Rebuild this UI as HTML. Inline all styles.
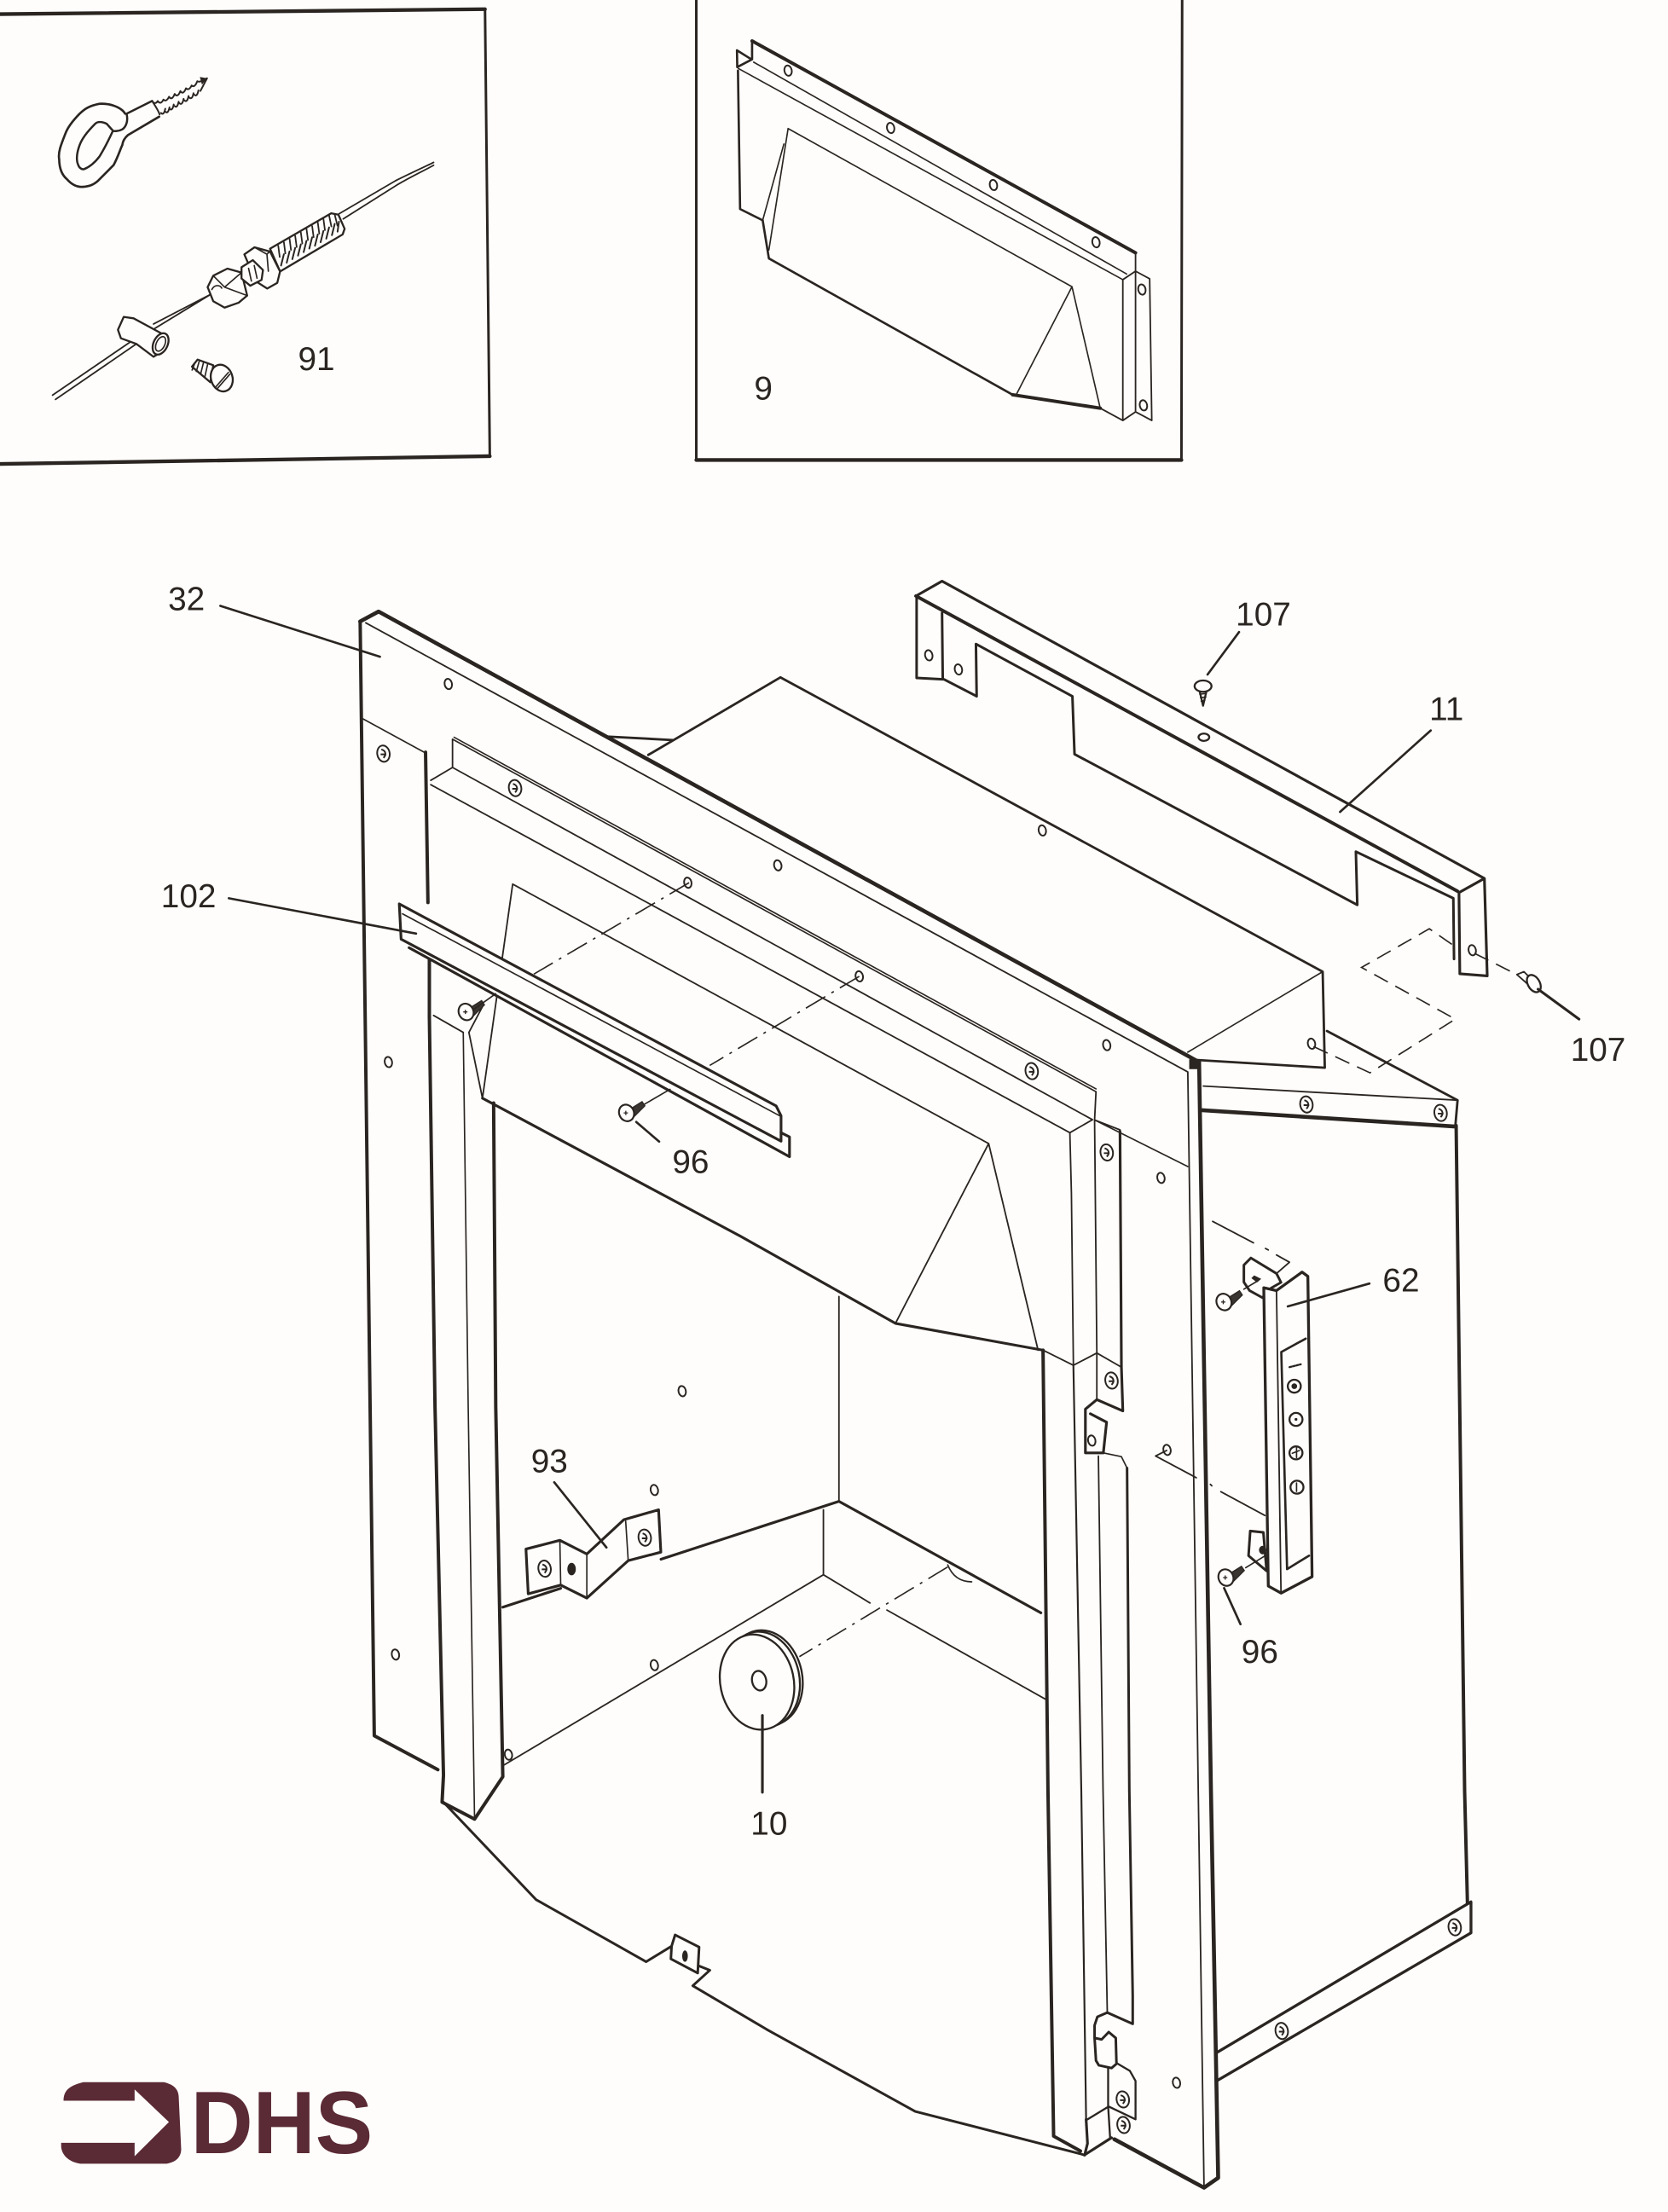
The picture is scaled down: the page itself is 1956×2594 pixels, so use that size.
<!DOCTYPE html>
<html>
<head>
<meta charset="utf-8">
<title>DHS parts diagram</title>
<style>
html,body{margin:0;padding:0;background:#fefdfb}
svg{display:block}
.t{fill:none;stroke:#2a2521;stroke-width:2.4;stroke-linejoin:round;stroke-linecap:round}
.m{fill:none;stroke:#2a2521;stroke-width:1.6;stroke-linejoin:round;stroke-linecap:round}
.n{fill:none;stroke:#2a2521;stroke-width:1;stroke-linejoin:round;stroke-linecap:round}
.d{fill:none;stroke:#2a2521;stroke-width:1;stroke-dasharray:16 5 2 5}
.k{fill:none;stroke:#2a2521;stroke-width:1;stroke-dasharray:11 6}
.f{fill:#fefdfb;stroke:#2a2521;stroke-width:1.4;stroke-linejoin:round}
text{font-family:"Liberation Sans",sans-serif;font-size:23.4px;fill:#2a2521}
</style>
</head>
<body>
<svg xmlns="http://www.w3.org/2000/svg" width="1956" height="2594" viewBox="0 0 1181 1566.2" preserveAspectRatio="none">
<defs>
<g id="h"><ellipse cx="0" cy="0" rx="2.6" ry="3.7" fill="#fefdfb" stroke="#2a2521" stroke-width="1.2" transform="rotate(-12)"/></g>
<g id="s"><ellipse cx="0" cy="0" rx="4.4" ry="5.8" fill="#fefdfb" stroke="#2a2521" stroke-width="1.2" transform="rotate(-10)"/><path d="M-1.5,-3 C2,-2 2,1 0,3 M-2,.5 L2,.5" fill="none" stroke="#2a2521" stroke-width="1.2"/></g>
<g id="b"><path d="M3,-3 L11,-8 L13,-5 L5,3 Z" fill="#3a3530" stroke="#2a2521" stroke-width=".8"/><ellipse cx="0" cy="0" rx="5.2" ry="6" fill="#fefdfb" stroke="#2a2521" stroke-width="1.3" transform="rotate(-25)"/><path d="M-2,0 L1,0 M-.5,-1.5 L-.5,1.5" stroke="#2a2521" stroke-width=".8"/></g>
</defs>
<rect width="1181" height="1566.2" fill="#fefdfb"/>

<!-- Inset 1 -->
<path d="M0,10 L343.4,6.5" class="t" style="stroke-width:2.6"/>
<path d="M343.4,6.5 L346.8,323" class="m" style="stroke-width:1.8"/>
<path d="M346.8,323 L0,328.5" class="t" style="stroke-width:2.6"/>
<!-- eye bolt -->
<path d="M88.6,80.5 C86,76 78,73 70.5,73.5 C63,75 60,77 56.4,80.5 C51,86 48,90 46.3,94.6 C43,103 41,108 41.9,112.8 C42,120 44,124 47.3,126.8 C51,131 55,132.5 58.4,132.3 C63,132 66,131 69.5,127.9 L80.5,116.8 C84,110 85,106 86.6,102.7 C87,99 89,97 90.6,95.6 L112.7,82.6" class="m" style="stroke-width:1.6"/>
<path d="M89.6,80.5 L107.7,71.5 M89.6,80.5 C91,86 89,90 86.6,91.6 C84,93 81,93 80,92.6 L75.5,87.6 C72,86 69,86 67.4,87.6 C62,93 58,98 56.4,102.7 C54,109 54,114 55.4,116.8 C56,119 58,120 59.4,119.8 C64,118 68,114 70.5,110.7 C74,105 77,99 79.5,93.6" class="m" style="stroke-width:1.5"/>
<path d="M107.7,71.5 C110,75 112,78 113,81" class="m" style="stroke-width:1.2"/>
<path d="M107.7,71.5 q2,3 4,0 q2,3 4,-1 q2,2 4,-2 q2,3 4,-2 q2,3 4,-2 q2,3 4,-2 q2,2 4,-2 q2,2 4,-3 q2,1 4,-1 L146.6,55.4 L141.9,64.4" class="n" style="stroke-width:1.2"/>
<path d="M114,80 q2,2 3,-3 M117,79 q2,2 3,-3 M120,77 q2,2 3,-3 M123.5,75 q2,2 3,-3 M127,73 q2,2 3,-3 M130.5,71 q2,2 3,-3 M134,69 q2,2 3,-3 M137.5,67 q2,2 3,-3" class="n" style="stroke-width:1.2"/>
<path d="M146.6,55.4 L141.5,54.5 L143,60 Z" fill="#2a2521"/>
<!-- cable -->
<path d="M37.2,279.8 L94.6,240.5 M39.3,282.8 L96.6,243.5" class="m" style="stroke-width:1.1"/>
<path d="M108.7,229.4 L157,204.3 M109.7,232.5 L151,207.3" class="m" style="stroke-width:1.1"/>
<path d="M239,152 L280,128 C292,122 301,118 307,115 M243,155 L281,131 C293,124 302,120 307,117" class="m" style="stroke-width:1.1"/>
<path d="M83.5,233.5 L87.6,224.4 L94.6,225.4 L118.8,238.5 L116.8,247.6 L108.7,252.6 L96.6,243.5 L85.6,239.5 Z" class="f"/>
<ellipse cx="113.7" cy="243.5" rx="5" ry="8" transform="rotate(25 113.7 243.5)" class="f"/>
<ellipse cx="113.7" cy="243.5" rx="3" ry="5.5" transform="rotate(25 113.7 243.5)" class="n"/>
<path d="M147,203.3 L151,195.2 L161,190.2 L171,193 L175,209.3 L169,214.3 L159,217.8 L151,213.3 Z" class="f"/>
<path d="M151,195.2 L159,203.3 L171,193 M159,203.3 L175,209.3 M150,205 C152,201 156,202 157,204" class="n"/>
<path d="M191.2,176.1 L234.5,151 L239.6,152 L244,162 L242.6,166 L198.3,192.2 Z" class="f"/>
<path d="M173,180.1 L180.2,175.1 L191.2,178.1 L198.3,192.2 L196.3,200.3 L189.2,204.3 L181.2,199.2 Z" class="f"/>
<path d="M180.2,175.1 L189,180 L191,178 M189,180 L190,192" class="n"/>
<path d="M171,189.2 L179,184.2 L186.2,191.2 L185.2,198.2 L177.2,202.3 L171,197.2 Z" class="f"/>
<path d="M176,190 L178,199 M180,188 L182,197" class="n"/>
<path d="M197,174 L199,189 M201,171.5 L203,187 M205,169 L207,184.5 M209,167 L211,182 M213,164.5 L215,179.5 M217,162 L219,177 M221,160 L223,175 M225,157.5 L227,172.5 M229,155 L231,170 M233,152.5 L236,167 M237,152 L240,164" class="n" style="stroke-width:1.1;stroke-dasharray:8 20"/>
<path d="M199,188 L201,180 M203,186 L205,178 M207,183.5 L209,175.5 M211,181 L213,173 M215,178.5 L217,170.5 M219,176 L221,168 M223,174 L225,166 M227,171.5 L229,163.5 M231,169 L233,161 M235,166.5 L237,158.5 M239,164 L240,157" class="n" style="stroke-width:1.2"/>
<!-- small screw -->
<path d="M135.9,259.6 L139.9,254.6 L151,258.6 L149,270.7 Z" class="f"/>
<path d="M138,257 L136,262 M141,256 L139,263 M144,257 L142,265 M147,258 L145,267" class="n"/>
<ellipse cx="157" cy="267.7" rx="7.6" ry="9.6" transform="rotate(-18 157 267.7)" class="f"/>
<path d="M153,273.7 L161.7,263.7 M154,275 L162.7,265" class="n"/>
<text x="211" y="262">91</text>

<!-- Inset 2 -->
<path d="M493,0 L493,325.7 L836.5,325.7 L837,0" class="m" style="stroke-width:1.8"/>
<path d="M493,325.7 L836.5,325.7" class="t" style="stroke-width:2.6"/>
<path d="M532.5,29 L804,179" class="t"/>
<path d="M532.5,29 L532.5,42 L522,47.5 L521.8,35.6 L532,42" class="m"/>
<path d="M522.5,50 L524,148 L540,156 L544.4,183 L717,279.5" class="m"/>
<path d="M717,279.5 L779,289" class="t"/>
<path d="M533.6,44 L797.7,194 M522.8,48.5 L795,198 M558,91 L759,203 L719.6,279.3 M759,203 L779,289 M558,91 L544.4,177 M540,156 L555,102" class="n"/>
<path d="M804,179 L804,192 L795,198 L795,297.7 L779,289 M804,192 L814,197.4 L815.5,297.7 L804,291.6 L795,297.7 M804,192 L804,291.6" class="m" style="stroke-width:1.1"/>
<use href="#h" x="558" y="50"/><use href="#h" x="630.6" y="90.6"/><use href="#h" x="703.4" y="131"/><use href="#h" x="776" y="171.5"/><use href="#h" x="808.5" y="205"/><use href="#h" x="809.6" y="287"/>
<text x="534" y="283">9</text>

<!-- Top housing behind frame -->
<path d="M430,521.5 L476.4,524 M459,534.5 L552.6,479.6 L936.5,688 L938,756 L847,750.5" class="m" style="stroke-width:1.7"/>
<path d="M841,745 L936.5,688" class="n"/>
<use href="#h" x="738" y="588"/>
<use href="#h" x="928.6" y="739"/>
<!-- Lower right panel -->
<path d="M939.5,730 L1032,779 L1030.4,797.6" class="m" style="stroke-width:1.7"/>
<path d="M852,769 L1032,779" class="n" style="stroke-width:1.1"/>
<path d="M850,786 L1030.4,797.6" class="t" style="stroke-width:2.8"/>
<path d="M1031,797 L1037,1268 L1039,1347.5" class="t"/>
<path d="M862,1453 L1041.5,1346.6 L1041.5,1368.6 L862,1473" class="t" style="stroke-width:2"/>
<use href="#s" x="925" y="782"/><use href="#s" x="1020" y="788"/><use href="#s" x="907.5" y="1438"/><use href="#s" x="1030" y="1364.6"/>
<!-- dashed outline -->
<path d="M930,741 L970,759.6 L1030.4,721.6 L964,685 L1012,657.6 L1030,670" class="k"/>

<!-- Brace 11 -->
<path d="M648.5,422 L667,411.5 L1051,622 L1053,691 L1033.6,689.5 L1033,632 L1051,622" class="t" style="stroke-width:1.9"/>
<path d="M648.5,422 L1032,631" class="t"/>
<path d="M649,423 L649,480 L667.5,481 L667,434 M668.4,481 L691.5,493 L691,456 L759.3,493 L760.8,534 L961,640.7 L960,603 L1029,636 L1029.5,679" class="m" style="stroke-width:1.8"/>
<use href="#h" x="657.6" y="464"/><use href="#h" x="678.6" y="474"/>
<ellipse cx="852.4" cy="522" rx="3.8" ry="2.6" class="f"/>
<use href="#h" x="1042.4" y="672.8"/>
<!-- screw 107 top -->
<path d="M849.3,489 L851.8,499.7 L854.3,489 Z" class="f"/>
<path d="M849.5,491.5 L854,491 M850,494 L853.8,493.5 M850.5,496.5 L853,496" class="n"/>
<ellipse cx="851.8" cy="485.8" rx="6" ry="4" class="f"/>
<path d="M877.3,447.5 L855,477.6" class="m"/>
<text x="875" y="443">107</text>
<path d="M1013,517.2 L948.8,574.9" class="m"/>
<text x="1012" y="510">11</text>
<!-- screw 107 right -->
<path d="M1044,675 L1072.8,689.4" class="k"/>
<path d="M1074,690 L1079,688 L1084,693 L1083,698 Z" class="f" style="stroke-width:1.1"/>
<ellipse cx="1086" cy="696.4" rx="4.2" ry="6.6" transform="rotate(-30 1086 696.4)" class="f"/>
<path d="M1089,700.4 L1118,721.6" class="m" style="stroke-width:1.9"/>
<text x="1112" y="751">107</text>

<!-- Main frame 32 -->
<path d="M255,440 L268,433 L849,752" class="t" style="stroke-width:2.8"/>
<path d="M255,440 L265,1229 L310,1253" class="t"/>
<path d="M259,441 L841,759 L852.5,1549" class="n" style="stroke-width:1.1"/>
<path d="M849,752 L857.4,1268 L862.5,1542 L852.5,1549 L789,1514.7" class="t" style="stroke-width:2.8"/>
<rect x="842" y="750" width="8" height="7" fill="#2a2521"/>
<path d="M257,509 L301,533 M775,793 L841,826" class="n"/>
<path d="M301.3,532.6 L303,639 M304,668 L304,720" class="t"/>
<!-- top flange of duct -->
<path d="M320.4,523.4 L776,773 M321.5,522 L776,771" class="n"/>
<path d="M320.4,523.4 L320.4,543.4 L305,552.5 M320.4,543.4 L773.5,792.8 M305,555.6 L757.5,802 L773.5,792.8" class="n" style="stroke-width:1.1"/>
<path d="M776,773 L775,793 L776.6,958 L776.6,991 M757.5,802 L758.6,845 L760,966.7 M775,793 L793,800" class="n" style="stroke-width:1.1"/>
<path d="M793,801 L794,968 L795,999 L776.6,991" class="m" style="stroke-width:1.9"/>
<!-- duct -->
<path d="M363,626 L700,809.7 M700,809.7 L634,937 M700,809.7 L735,956 M363,626 L341.6,777.6 M342,712 L332,731 L341.6,777.6 M307,719 L328,731" class="n" style="stroke-width:1.1"/>
<path d="M341.6,777.6 L524.6,875.5 L634,937 L738.5,956" class="m" style="stroke-width:1.9"/>
<path d="M738.5,956 L760,966.7 L776.6,958 L794,968" class="n" style="stroke-width:1.1"/>
<!-- jambs -->
<path d="M304,720 L308,996 L314,1257 L313,1276 L336,1288 L356,1258 L351,996 L349.5,781" class="t"/>
<path d="M328,731 L331.5,996 L336,1288" class="n" style="stroke-width:1"/>
<path d="M738.5,956 L742,1268 L746,1512.5 L765,1523" class="t"/>
<path d="M760,966.7 L765.6,1268 L769,1500.6" class="n" style="stroke-width:1.3"/>
<path d="M777.7,1031 L781,1268 L784,1425" class="n" style="stroke-width:1.1"/>
<path d="M798,1039.5 L799.6,1268 L802,1413 L802,1433 L784,1425" class="m" style="stroke-width:1.8"/>
<!-- upper hook -->
<path d="M776.6,991 L768.5,997.7 L768.5,1028.7 L781.2,1028.7 L783.5,1007 L772,1001" class="t" style="stroke-width:1.9"/>
<path d="M781.2,1028.7 L794,1031.4 L798,1039.5" class="n"/>
<!-- lower hook -->
<path d="M784,1425 L777,1428 L775,1434 L775,1443 L776,1459 L778,1462.3 L787,1464.3 L790.5,1461.3 L790,1443 L785,1438.8 L780,1444 L775,1443" class="t" style="stroke-width:1.8"/>
<path d="M791,1461 L800,1466.3 L804,1473.4 L804,1500.6 L785,1491.5 L770,1500.6 M784.6,1464 L784.6,1491.5 L786,1513.6" class="m" style="stroke-width:1.4"/>
<path d="M769,1500.6 L770,1517.7 L768,1525.7 L787,1513.6" class="m" style="stroke-width:1.9"/>
<!-- bottom sweep -->
<path d="M314,1276 L379.5,1345 L457.5,1389 L475.5,1378 L478,1370 L495,1378.6 L494,1397 L475,1387 L475.5,1378 M495,1392 L502.6,1395 L490.5,1406 L543,1437 L648,1495 L765,1525 L768,1526" class="m" style="stroke-width:1.8"/>
<ellipse cx="485" cy="1385" rx="2" ry="4" fill="#2a2521"/>
<!-- interior -->
<path d="M594,918 L594,1063" class="n" style="stroke-width:1.1"/>
<path d="M468,1104 L594,1063 L737,1142 M356,1138 L397,1124.6" class="m" style="stroke-width:1.9"/>
<path d="M583,1069 L583,1115 L355.5,1250.5 M583,1115 L616,1135 M628,1140 L740,1203" class="n" style="stroke-width:1.1"/>
<path d="M671,1109.5 L566,1173" class="d"/>
<path d="M671,1108 C675,1118 682,1120 688,1120" class="n"/>
<!-- frame holes -->
<use href="#h" x="317.4" y="484.3"/><use href="#s" x="271.5" y="533.6"/><use href="#s" x="364.7" y="558"/><use href="#h" x="550.7" y="612.7"/><use href="#h" x="487" y="625"/><use href="#h" x="608.4" y="691.3"/><use href="#h" x="783.6" y="740"/><use href="#s" x="730.5" y="758.4"/><use href="#s" x="783.6" y="816"/><use href="#h" x="822" y="834"/><use href="#h" x="275" y="752"/><use href="#h" x="280" y="1171.5"/><use href="#h" x="483" y="985"/><use href="#h" x="463.3" y="1055"/><use href="#h" x="463.3" y="1179"/><use href="#h" x="360" y="1242.4"/><use href="#h" x="826.3" y="1026.6"/><use href="#h" x="833" y="1474.7"/><use href="#s" x="787" y="977.5"/><use href="#s" x="795" y="1486.5"/><use href="#s" x="795.5" y="1504.6"/><use href="#h" x="773" y="1020"/>
<!-- dash center lines -->
<path d="M487.9,625 L378,689.7" class="d"/>
<path d="M608.4,691.3 L502.5,754.4" class="d"/>

<!-- Bar 102 -->
<polygon points="282.7,640 549.5,783 553,790 559,805 559,819 289.6,671 284,665" fill="#fefdfb"/>
<path d="M282.7,640 L549.5,783 L553,790 L553,808 L284,665 Z" class="m" style="stroke-width:1.9;fill:#fefdfb"/>
<path d="M285,647 L552,790" class="n"/>
<path d="M289.6,671 L559,819 L559,805 L553,802" class="t" style="stroke-width:1.9"/>
<use href="#b" x="330" y="716.5"/>
<path d="M335,715 L351,703.6" class="n"/>
<!-- screw 96 -->
<use href="#b" x="443.6" y="788"/>
<path d="M456,782 L474.4,771.3" class="n"/>
<path d="M450.5,794.4 L466.7,808.3" class="m"/>
<text x="476" y="830.5">96</text>

<!-- Leaders main -->
<path d="M156,429 L269,465" class="m"/>
<text x="119" y="432">32</text>
<path d="M162,636 L294.6,661" class="m"/>
<text x="114" y="642.5">102</text>

<!-- Bracket 93 -->
<path d="M372.4,1096.8 L396.4,1090.6 L415.5,1100.3 L441.7,1076 L466.3,1069 L467.9,1099 L444.8,1105 L415.5,1131.5 L397,1122.3 L374,1128.5 Z" class="m" style="stroke-width:1.9;fill:#fefdfb"/>
<path d="M396.4,1090.6 L397,1122.3 M415.5,1100.3 L415.5,1131.5 M443,1077 L444.8,1105" class="n"/>
<use href="#s" x="385.6" y="1110.7"/>
<ellipse cx="404.7" cy="1111" rx="3" ry="4.4" fill="#2a2521"/>
<use href="#s" x="456.5" y="1088.7"/>
<path d="M392.4,1049.5 L429.4,1095.7" class="m"/>
<text x="376" y="1042.5">93</text>

<!-- Grommet 10 -->
<ellipse cx="542" cy="1188" rx="26" ry="34" transform="rotate(-12 542 1188)" class="f"/>
<ellipse cx="540" cy="1189" rx="26" ry="34" transform="rotate(-12 540 1189)" class="f"/>
<ellipse cx="536" cy="1191" rx="26" ry="34" transform="rotate(-12 536 1191)" class="f"/>
<ellipse cx="537.5" cy="1190" rx="5" ry="7" transform="rotate(-12 537.5 1190)" class="f"/>
<path d="M539.8,1214.6 L539.8,1269" class="m" style="stroke-width:1.9"/>
<text x="531.5" y="1299">10</text>

<!-- Handle 62 with tabs -->
<path d="M858.6,864.8 L887.5,880 M896,884 L898,885 M903.8,888.6 L913,893.7 L903.8,901.7" class="n" style="stroke-width:1.1"/>
<path d="M818.2,1030.9 L826,1027 M818.2,1030.9 L847,1046.3 M857,1051 L858,1052 M864.4,1056.2 L895.6,1073" class="n" style="stroke-width:1.1"/>
<path d="M893.8,918.8 L884.7,913.8 L880.7,907.8 L880.7,895.7 L885.7,890.7 L903.8,901.7 L907,908 L900,912 Z" class="m" style="stroke-width:1.8;fill:#fefdfb"/>
<path d="M888,903 L893,905.5 L890,908 L886,905 Z" fill="#2a2521"/>
<path d="M885.2,1084 L894.5,1085 L896.8,1112.3 L884,1101.5 Z" class="m" style="stroke-width:1.8;fill:#fefdfb"/>
<ellipse cx="894" cy="1097.5" rx="2.6" ry="3" fill="#2a2521"/>
<path d="M894.8,911.8 L898,1123 L907,1128 L929,1116.4 L926,903.7 L921.9,900.7 L903.8,913.8 L894.8,911.8" class="t" style="stroke-width:2;fill:#fefdfb"/>
<path d="M903.8,913.8 L907,1128" class="n" style="stroke-width:1.1"/>
<path d="M907.2,957.3 L924.5,947.8 M907.2,957.3 L911.3,1111 L926.8,1101.5" class="m"/>
<circle cx="916.4" cy="981.5" r="4.6" class="f"/><circle cx="916.4" cy="981.5" r="2" fill="#2a2521"/>
<circle cx="917.6" cy="1005" r="4.6" class="f"/><circle cx="917.6" cy="1005" r="1" fill="#2a2521"/>
<circle cx="917.6" cy="1028.7" r="4.6" class="f"/><path d="M915,1029 L920,1027 M918,1025 L918,1032" class="n"/>
<circle cx="918.3" cy="1053" r="4.6" class="f"/><path d="M918,1050 L918,1056" class="n"/>
<path d="M913,968 L921,966" class="m" style="stroke-width:1.4;stroke-dasharray:1.5 1"/>
<!-- screws 96 -->
<use href="#b" x="866.6" y="921.9"/>
<path d="M880.7,912.8 L890.7,906.8" class="n"/>
<use href="#b" x="868" y="1117"/>
<path d="M882,1110 L895,1102" class="n"/>
<path d="M969.6,908.8 L911.8,925" class="m"/>
<text x="979" y="914.5">62</text>
<path d="M866.7,1124.4 L878.3,1150" class="m"/>
<text x="879" y="1177.5">96</text>

<!-- Logo -->
<path d="M45,1487.4 C45,1481 48,1477 59,1474.3 L116,1474.3 C123,1476 126,1479 126.5,1484 L128.3,1522 C128,1528 124,1531 118,1532 L57,1532 C50,1531 44,1527 43.3,1520 L43.3,1517.2 L95.3,1517.2 L95.3,1526.7 L119.6,1502.5 L95.3,1479.4 L95.3,1487.4 Z" fill="#5a2a35"/>
<text x="135" y="1524.5" textLength="129" lengthAdjust="spacingAndGlyphs" style="font-size:63px;font-weight:bold;fill:#5a2a35">DHS</text>
</svg>
</body>
</html>
